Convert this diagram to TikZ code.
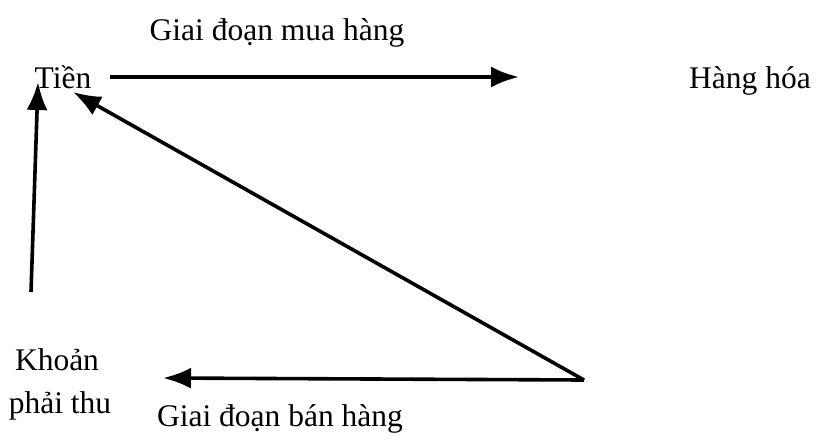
\documentclass[tikz,border=0pt]{standalone}
\usepackage{fontspec}
\setmainfont{Liberation Serif}
\usetikzlibrary{arrows.meta}
\begin{document}
\begin{tikzpicture}[x=1pt,y=-1pt,
  lbl/.style={font=\fontsize{31.5}{33}\selectfont, inner sep=0pt},
  arr/.style={line width=3.6pt, -{Latex[length=28pt,width=21pt]}}]
\useasboundingbox[fill=white] (0,0) rectangle (826,440);
\node[lbl, anchor=base] (buyl) at (277,40) {Giai đoạn mua hàng};
\node[lbl, anchor=base] (tien) at (63,88) {Tiền};
\node[lbl, anchor=base] (hang) at (750,88) {Hàng hóa};
\node[lbl, anchor=base] (khoan) at (57,370) {Khoản};
\node[lbl, anchor=base] (phai) at (60,413) {phải thu};
\node[lbl, anchor=base] (selll) at (280,426) {Giai đoạn bán hàng};
\coordinate (corner) at (584,380);
\coordinate (topstart) at (110,77);
\coordinate (topend) at (519,77);
\coordinate (vstart) at (31,292);
\coordinate (vend) at (38,82);
\coordinate (dend) at (73,92);
\coordinate (bend) at (163,378);
\draw[arr] (topstart) -- (topend);
\draw[arr] (vstart) -- (vend);
\draw[arr, line join=round] (corner) -- (dend);
\draw[arr] (corner) -- (bend);
\end{tikzpicture}
\end{document}
